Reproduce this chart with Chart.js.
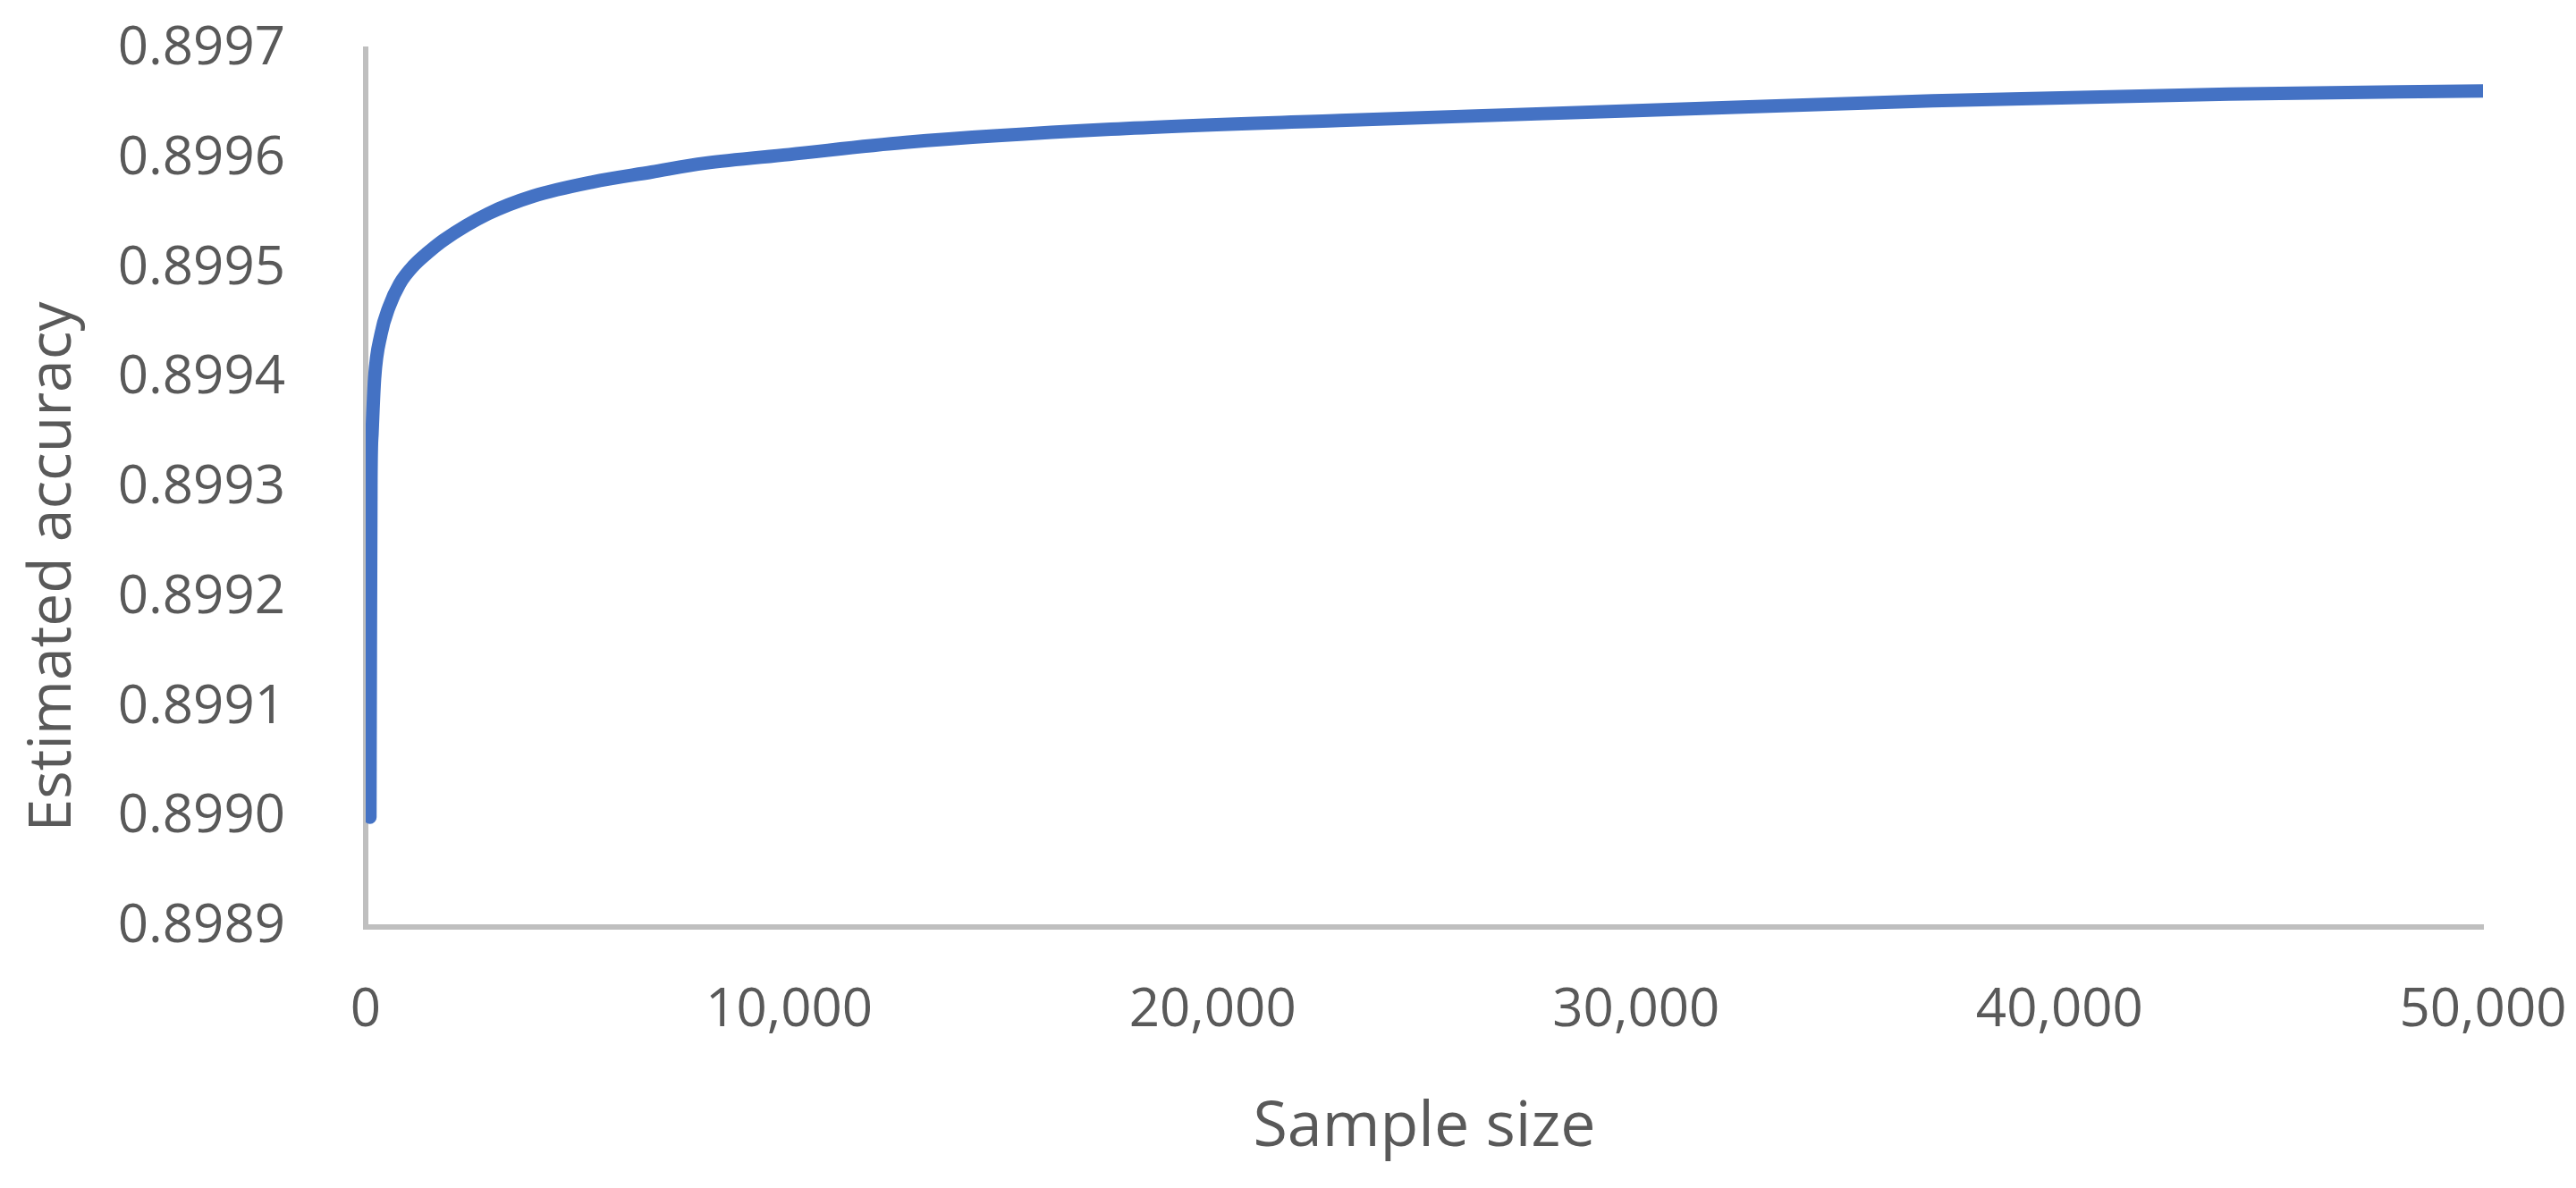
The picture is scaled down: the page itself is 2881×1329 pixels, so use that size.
<!DOCTYPE html>
<html>
<head>
<meta charset="utf-8">
<title>Estimated accuracy vs sample size</title>
<script src="https://cdn.jsdelivr.net/npm/chart.js@4.4.1/dist/chart.umd.min.js"></script>
<style>
  html, body { margin: 0; padding: 0; background: #ffffff; }
  #chart { display: block; }
</style>
</head>
<body>
<canvas id="chart" width="2881" height="1329"></canvas>
<script>
// values
const sampleSizes = [100, 110, 125, 150, 210, 360, 550, 800, 1140, 1450, 1840, 2890, 3950, 5360, 6750, 8000, 10000, 12750, 17600, 23000, 30000, 37000, 44000, 50000];
const accuracy = [0.89900, 0.89915, 0.89931, 0.89935, 0.89940, 0.89944, 0.899465, 0.899486, 0.899503, 0.899514, 0.899526, 0.89955, 0.899566, 0.899579, 0.899588, 0.899596, 0.899604, 0.899615, 0.899627, 0.899635, 0.899644, 0.899653, 0.899659, 0.899662];

const xTicks = { min: 0, max: 50000, step: 10000 };
const yTicks = { min: 0.8989, max: 0.8997, step: 0.0001 };

const xTitle = 'Sample size';
const yTitle = 'Estimated accuracy';

const textColor = '#595959';
const axisColor = '#BFBFBF';
const lineColor = '#4472C4';
const fontFamily = '"Open Sans", "Noto Sans", sans-serif';

const points = sampleSizes.map((n, i) => ({ x: n, y: accuracy[i] }));

// the y title sits a little below the middle of the plot, as in the original
const yTitlePlugin = {
    id: 'yTitle',
    afterDraw(chart) {
        const c = chart.ctx;
        c.save();
        c.translate(60, 634);
        c.rotate(-Math.PI / 2);
        c.fillStyle = textColor;
        c.font = '66px ' + fontFamily;
        c.textAlign = 'center';
        c.textBaseline = 'middle';
        c.fillText(yTitle, 0, 0);
        c.restore();
    }
};

// drop the label overhang padding so layout.padding alone places the plot
function fixSize(prop, size) {
    return (scale) => {
        scale[prop] = size;
        scale.paddingTop = 0;
        scale.paddingBottom = 0;
        scale.paddingLeft = 0;
        scale.paddingRight = 0;
    };
}

const config = {
    type: 'scatter',
    data: {
        datasets: [{
            data: points,
            showLine: true,
            borderColor: lineColor,
            backgroundColor: lineColor,
            borderWidth: 15,
            borderCapStyle: 'round',
            borderJoinStyle: 'round',
            cubicInterpolationMode: 'monotone',
            pointRadius: 0,
            pointHoverRadius: 0
        }]
    },
    options: {
        responsive: false,
        animation: false,
        devicePixelRatio: 1,
        layout: {
            padding: { left: 0, right: 104, top: 55, bottom: 0 }
        },
        plugins: {
            legend: { display: false },
            tooltip: { enabled: false }
        },
        scales: {
            x: {
                type: 'linear',
                min: xTicks.min,
                max: xTicks.max,
                afterFit: fixSize('height', 292),
                grid: { display: false, drawTicks: false },
                border: { display: true, color: axisColor, width: 6 },
                ticks: {
                    stepSize: xTicks.step,
                    padding: 58,
                    color: textColor,
                    font: { family: fontFamily, size: 60 },
                    callback: (value) => value.toLocaleString('en-US')
                },
                title: {
                    display: true,
                    text: xTitle,
                    color: textColor,
                    font: { family: fontFamily, size: 70 },
                    padding: { top: 0, bottom: 25 }
                }
            },
            y: {
                type: 'linear',
                min: yTicks.min,
                max: yTicks.max,
                afterFit: fixSize('width', 409),
                grid: { display: false, drawTicks: false },
                border: { display: true, color: axisColor, width: 6 },
                ticks: {
                    stepSize: yTicks.step,
                    padding: 90,
                    color: textColor,
                    font: { family: fontFamily, size: 60 },
                    callback: (value) => Number(value).toFixed(4)
                }
            }
        }
    },
    plugins: [yTitlePlugin]
};

const ctx = document.getElementById('chart').getContext('2d');
new Chart(ctx, config);
</script>
</body>
</html>
